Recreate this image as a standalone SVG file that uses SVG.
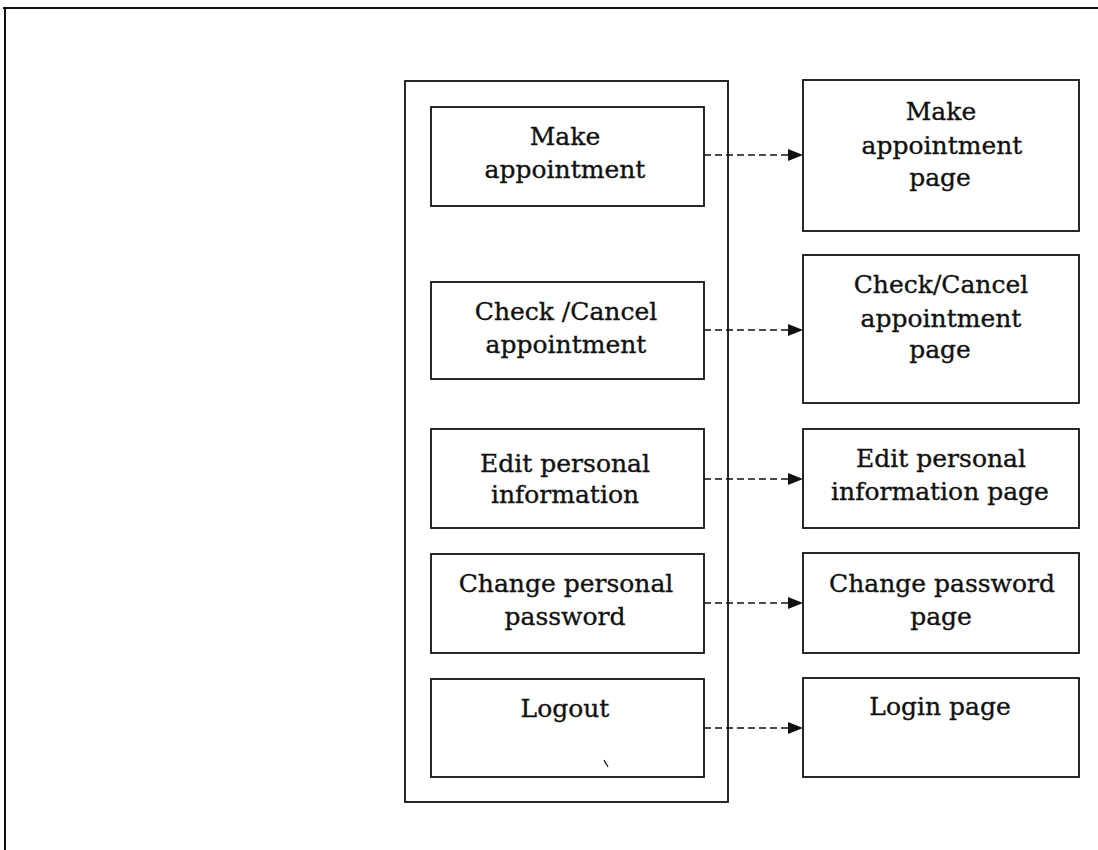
<svg xmlns="http://www.w3.org/2000/svg" width="1098" height="850" viewBox="0 0 1098 850">
<style>
.box{fill:#fff;stroke:#111;stroke-width:1.8}
.frame{fill:none;stroke:#111;stroke-width:2}
.t{font-family:"DejaVu Serif","Liberation Serif",serif;font-size:25px;fill:#111;stroke:#111;stroke-width:0.35;text-anchor:middle}
.con{stroke:#111;stroke-width:1.6;stroke-dasharray:7 4;fill:none}
</style>
<defs>
<marker id="ah" markerWidth="15" markerHeight="12" refX="15" refY="6" orient="auto" markerUnits="userSpaceOnUse">
<path d="M0,0 L15,6 L0,12 Z" fill="#111"/>
</marker>
</defs>
<rect width="1098" height="850" fill="#fff"/>
<g id="frame">
<path class="frame" d="M3,8 L1098,8 M5,8 L5,850"/>
</g>
<g id="menu">
<rect class="box" x="405" y="81" width="323" height="721"/>
</g>
<g id="make">
<rect class="box" x="431" y="107" width="273" height="99"/>
<text class="t" x="565" y="145">Make</text>
<text class="t" x="565" y="178">appointment</text>
</g>
<g id="check">
<rect class="box" x="431" y="282" width="273" height="97"/>
<text class="t" x="566" y="320">Check /Cancel</text>
<text class="t" x="566" y="353">appointment</text>
</g>
<g id="edit">
<rect class="box" x="431" y="429" width="273" height="99"/>
<text class="t" x="565" y="472">Edit personal</text>
<text class="t" x="565" y="503">information</text>
</g>
<g id="change">
<rect class="box" x="431" y="554" width="273" height="99"/>
<text class="t" x="566" y="592">Change personal</text>
<text class="t" x="565" y="625">password</text>
</g>
<g id="logout">
<rect class="box" x="431" y="679" width="273" height="98"/>
<text class="t" x="565" y="717">Logout</text>
<path d="M604,760 L608,767" stroke="#111" stroke-width="1.2"/>
</g>
<g id="make-page">
<rect class="box" x="803" y="80" width="276" height="151"/>
<text class="t" x="941" y="120">Make</text>
<text class="t" x="942" y="154">appointment</text>
<text class="t" x="940" y="186">page</text>
</g>
<g id="check-page">
<rect class="box" x="803" y="255" width="276" height="148"/>
<text class="t" x="941" y="293">Check/Cancel</text>
<text class="t" x="941" y="327">appointment</text>
<text class="t" x="940" y="358">page</text>
</g>
<g id="edit-page">
<rect class="box" x="803" y="429" width="276" height="99"/>
<text class="t" x="941" y="467">Edit personal</text>
<text class="t" x="940" y="500">information page</text>
</g>
<g id="change-page">
<rect class="box" x="803" y="553" width="276" height="100"/>
<text class="t" x="942" y="592">Change password</text>
<text class="t" x="941" y="625">page</text>
</g>
<g id="login-page">
<rect class="box" x="803" y="678" width="276" height="99"/>
<text class="t" x="940" y="715">Login page</text>
</g>
<g id="connectors">
<path class="con" d="M704,155 L803,155" marker-end="url(#ah)"/>
<path class="con" d="M704,330 L803,330" marker-end="url(#ah)"/>
<path class="con" d="M704,479 L803,479" marker-end="url(#ah)"/>
<path class="con" d="M704,603 L803,603" marker-end="url(#ah)"/>
<path class="con" d="M704,728 L803,728" marker-end="url(#ah)"/>
</g>
</svg>
